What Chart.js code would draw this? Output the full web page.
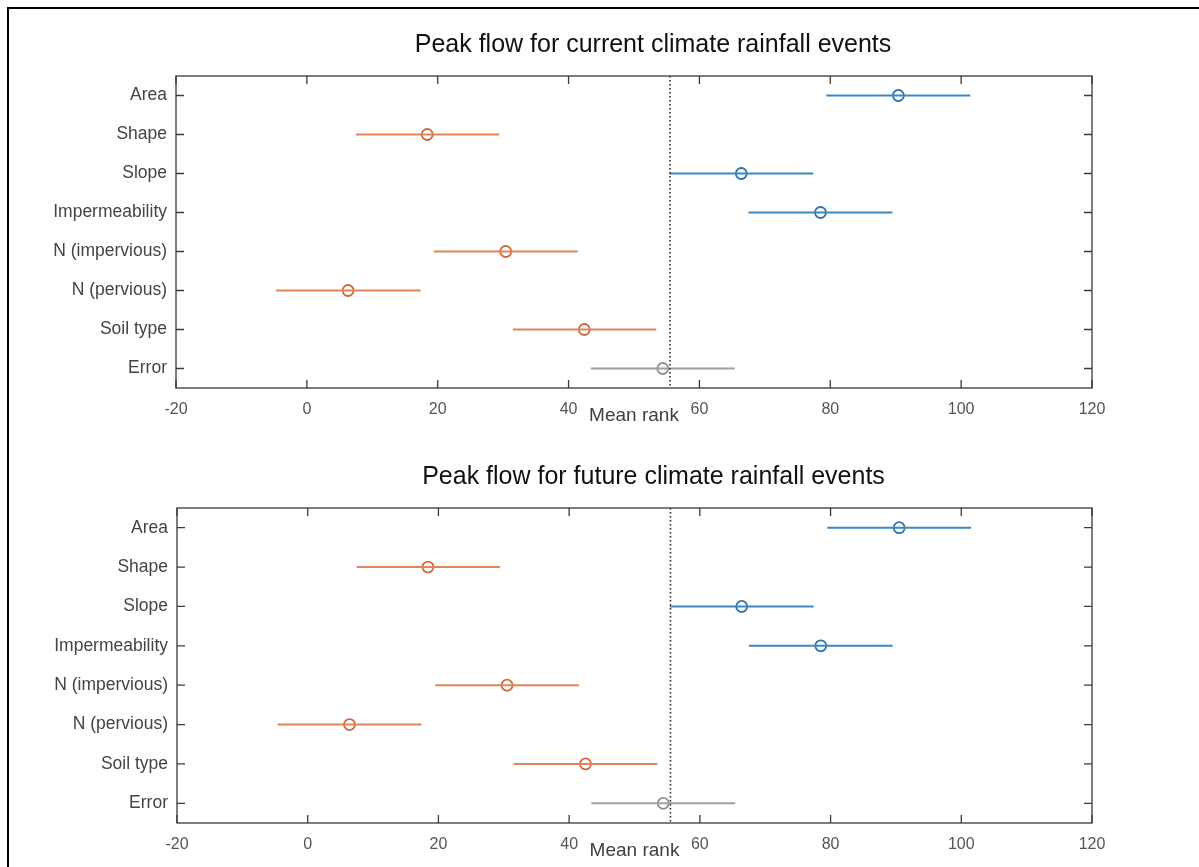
<!DOCTYPE html>
<html>
<head>
<meta charset="utf-8">
<title>Peak flow mean rank</title>
<script src="https://cdn.jsdelivr.net/npm/chart.js@4.4.1/dist/chart.umd.min.js"></script>
<style>
  body { margin: 0; background: #fff; }
  #page { position: relative; width: 1199px; height: 867px; overflow: hidden; }
  #frame {
    position: absolute; left: 7px; top: 7px; right: -10px; bottom: -10px;
    border-top: 2px solid #000; border-left: 2px solid #000;
  }
  canvas { position: absolute; left: 0; }
</style>
</head>
<body>
<div id="page">
  <div id="frame"></div>
  <canvas id="currentChart" width="1199" height="432" style="top:0"></canvas>
  <canvas id="futureChart" width="1199" height="435" style="top:432px"></canvas>
</div>
<script>
// factors, top to bottom
const categories = ['Area', 'Shape', 'Slope', 'Impermeability', 'N (impervious)', 'N (pervious)', 'Soil type', 'Error'];
// which side of the error term each factor falls on
const groups = ['above', 'below', 'above', 'above', 'below', 'below', 'below', 'error'];

// current climate: mean rank and interval ends
const currentMean = [90.4, 18.4, 66.4, 78.5, 30.4, 6.3, 42.4, 54.4];
const currentLow  = [79.4, 7.5, 55.4, 67.5, 19.4, -4.7, 31.5, 43.4];
const currentHigh = [101.4, 29.4, 77.4, 89.5, 41.4, 17.4, 53.4, 65.4];

// future climate
const futureMean = [90.5, 18.4, 66.4, 78.5, 30.5, 6.4, 42.5, 54.4];
const futureLow  = [79.5, 7.5, 55.4, 67.5, 19.5, -4.6, 31.5, 43.4];
const futureHigh = [101.5, 29.4, 77.4, 89.5, 41.5, 17.4, 53.5, 65.4];

const meanRankLine = 55.5;

const lineColors = { above: '#3b87bf', below: '#e2845a', error: '#a0a0a0' };
const markColors = { above: '#2e73a6', below: '#d0683c', error: '#909090' };

const fontFamily = '"Liberation Sans", Arial, sans-serif';
Chart.defaults.font.family = fontFamily;

function buildDatasets(mean, low, high) {
  const sets = categories.map((c, i) => ({
    label: c,
    data: [{ x: low[i], y: i + 1 }, { x: high[i], y: i + 1 }],
    showLine: true,
    borderColor: lineColors[groups[i]],
    borderWidth: 2,
    pointRadius: 0
  }));
  sets.push({
    label: 'Mean rank',
    data: mean.map((m, i) => ({ x: m, y: i + 1 })),
    showLine: false,
    pointRadius: 5.5,
    pointBorderWidth: 1.8,
    pointBorderColor: groups.map(g => markColors[g]),
    pointBackgroundColor: 'rgba(0,0,0,0)'
  });
  return sets;
}

// box, inward ticks, dotted reference line, title and the x label
const axesBox = {
  id: 'axesBox',
  afterDatasetsDraw(chart, args, opts) {
    const { ctx, chartArea: a, scales } = chart;
    const tl = 8;
    ctx.save();

    // dotted reference line
    const xr = scales.x.getPixelForValue(meanRankLine);
    ctx.strokeStyle = '#222';
    ctx.lineWidth = 1.5;
    ctx.setLineDash([1.5, 2.5]);
    ctx.beginPath();
    ctx.moveTo(xr, a.top);
    ctx.lineTo(xr, a.bottom);
    ctx.stroke();
    ctx.setLineDash([]);

    ctx.strokeStyle = '#3a3a3a';
    ctx.lineWidth = 1.3;
    ctx.strokeRect(a.left, a.top, a.right - a.left, a.bottom - a.top);

    ctx.beginPath();
    scales.x.ticks.forEach(t => {
      const px = scales.x.getPixelForValue(t.value);
      ctx.moveTo(px, a.top); ctx.lineTo(px, a.top + tl);
      ctx.moveTo(px, a.bottom); ctx.lineTo(px, a.bottom - tl);
    });
    scales.y.ticks.forEach(t => {
      const py = scales.y.getPixelForValue(t.value);
      ctx.moveTo(a.left, py); ctx.lineTo(a.left + tl, py);
      ctx.moveTo(a.right, py); ctx.lineTo(a.right - tl, py);
    });
    ctx.stroke();

    ctx.textAlign = 'center';

    // title sits a little right of the axes centre
    ctx.fillStyle = '#111';
    ctx.font = '25px ' + fontFamily;
    ctx.textBaseline = 'alphabetic';
    ctx.fillText(opts.title, (a.left + a.right) / 2 + 19, a.top - 24);

    ctx.fillStyle = '#404040';
    ctx.font = '19px ' + fontFamily;
    ctx.textBaseline = 'middle';
    ctx.fillText('Mean rank', (a.left + a.right) / 2, a.bottom + 28);
    ctx.restore();
  }
};

function makeChart(id, title, mean, low, high, yWidth) {
  return new Chart(document.getElementById(id), {
    type: 'scatter',
    data: { datasets: buildDatasets(mean, low, high) },
    options: {
      responsive: false,
      animation: false,
      layout: { padding: { left: 0, right: 107, top: 76, bottom: 4 } },
      plugins: {
        legend: { display: false },
        tooltip: { enabled: false },
        title: { display: false },
        axesBox: { title: title }
      },
      scales: {
        x: {
          type: 'linear',
          min: -20,
          max: 120,
          ticks: { stepSize: 20, color: '#555', font: { size: 16 }, padding: 12 },
          grid: { display: false, drawTicks: false },
          border: { display: false },
          afterFit: s => { s.height = 40; }
        },
        y: {
          type: 'linear',
          min: 0.5,
          max: 8.5,
          reverse: true,
          afterBuildTicks: s => { s.ticks = categories.map((c, i) => ({ value: i + 1 })); },
          ticks: {
            color: '#444',
            font: { size: 17.5 },
            padding: 9,
            callback: v => categories[v - 1]
          },
          grid: { display: false, drawTicks: false },
          border: { display: false },
          afterFit: s => { s.width = yWidth; }
        }
      }
    },
    plugins: [axesBox]
  });
}

makeChart('currentChart', 'Peak flow for current climate rainfall events', currentMean, currentLow, currentHigh, 176);
makeChart('futureChart', 'Peak flow for future climate rainfall events', futureMean, futureLow, futureHigh, 177);
</script>
</body>
</html>
